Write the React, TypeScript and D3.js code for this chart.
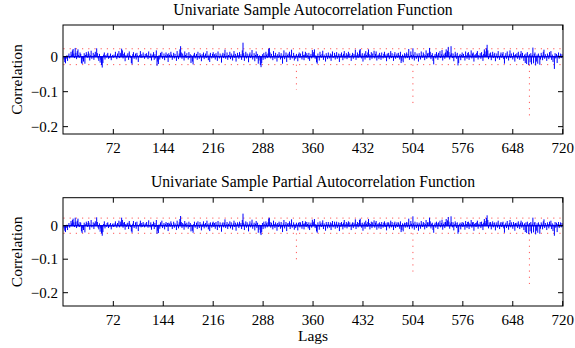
import React from "react";
import * as d3 from "d3";

// Sample ACF, lags 1..720, in thousandths
const acfMilli: number[] = [
  -8, -15, -19, -6, 4, -12, 3, 9, -5, 2, 14, 6, 18, 22, 9, -4, 25, 11, -7, 16, 21, 5, -3, 12,
  8, -18, -21, -6, -14, 10, -20, 5, 13, 7, -3, 15, 9, -11, 4, 17, -6, 2, 11, -9, 6, 14, 3, 24,
  10, -5, -12, 8, -17, -9, -24, -31, -18, 6, 12, -8, 4, -2, 7, 11, -6, 3, -4, 9, -10, 2, 5, -3,
  6, -1, 14, 3, -7, 9, 2, 16, -4, 11, 7, 23, 18, -5, 8, 12, -13, 4, -2, 6, 10, -9, 15, 5,
  -3, -18, -22, 7, 13, -6, 3, 9, -8, 11, 4, -15, 2, 5, 16, -4, 7, -2, 12, 3, -6, 8, -1, 10,
  4, -7, 15, 2, -4, 9, -11, 6, 3, 13, -9, 7, -5, 18, -26, -14, -21, 5, -8, 11, 3, 14, -6, 2,
  9, -10, 4, 12, -3, 7, -15, 10, 5, -2, 14, 6, -9, 3, 11, -5, 8, 2, -12, 16, 4, -7, 9, 21,
  30, 12, -6, 9, 3, -11, 15, 5, -4, 10, 2, -8, 13, -3, 7, -18, 4, -14, -22, 6, 11, -5, 3, 8,
  -9, 14, 2, -6, 10, 5, -13, 7, -2, 12, -7, 4, 9, -4, 16, 3, -10, 6, -15, 11, 2, -5, 8, 13,
  -3, 7, -8, 10, 4, -12, 15, 2, -5, 9, 3, -17, 6, 11, -4, 8, 20, -6, 3, 12, -9, 5, 1, 14,
  -7, 9, 4, -11, 6, 16, -3, 8, -14, 3, 11, 5, -6, 13, 2, 7, -9, 18, 40, 10, -12, 4, 14, -5,
  9, 3, -16, 7, 12, -4, 6, 19, -8, 2, 10, -13, 5, 15, -6, 8, -20, -11, 4, -24, -30, -18, 7, -9,
  11, 3, -7, 14, 6, -4, 9, 22, 25, 12, -5, 8, 2, -10, 16, 4, -6, 11, 3, -14, 7, -3, 13, 5,
  -8, 10, -4, -20, 6, 18, -7, 3, 12, -15, 5, 9, -2, 14, -9, 6, 20, -5, 2, 11, -11, 4, -6, 8,
  3, -13, 7, 12, -4, 9, 2, -8, 15, 5, -10, 6, 14, -3, 10, 4, -7, 11, -12, 3, 8, -5, 19, 6,
  13, 21, -6, 4, -16, -20, 9, 2, -11, 14, 5, -3, 8, 17, -9, 6, 2, -14, 10, 4, -7, 12, 3, -5,
  9, -12, 6, 15, -4, 2, 11, -8, 5, 13, -6, 3, 9, -15, 7, -2, 12, 4, -10, 8, 16, -5, 3, 10,
  -7, 6, 14, -3, 9, 2, -12, 5, 11, -6, 8, 3, 20, -9, 4, 12, -4, 7, 18, 22, 6, -5, 10, -14,
  3, 9, -8, 16, 5, -3, 12, 21, 7, -10, 4, 13, -6, 9, 2, 17, -5, 8, 15, -11, 3, 6, -7, 11,
  4, -9, 12, 2, -5, 8, 14, -3, 6, -13, 9, 3, 11, -7, 5, 16, -4, 10, 2, -12, 7, 13, -6, 4,
  9, -3, 11, 5, -8, 14, -18, -12, 6, -16, 3, 10, -5, 7, 12, -4, 8, 22, -9, 3, 15, 5, -7, 24,
  6, -11, 13, 2, -6, 9, 4, -14, 10, 3, -8, 15, 5, -3, 12, 7, -10, 4, 18, -6, 9, 11, 2, 25,
  14, -7, 5, 10, -12, -22, 3, 8, -5, 13, 6, -9, 11, 2, 16, -4, 7, 19, -11, 4, 9, -6, 12, 21,
  5, 17, 28, 13, -8, 6, 30, 10, -4, 9, -13, 3, 14, 7, -6, 11, -25, -18, 4, 8, -10, 5, 12, -3,
  8, 2, -11, 15, 4, -6, 10, 13, -9, 6, 3, 18, -5, 9, 12, -14, 4, 7, -3, 11, 16, -8, 5, 2,
  10, -6, 13, 4, -12, 8, 21, 15, 6, 24, 34, 18, -7, 9, 3, 12, -10, 5, 14, -4, 7, 11, -13, 3,
  9, -5, 16, 2, -9, 6, 12, -3, 8, 13, -7, -20, 4, 10, -6, 15, 3, -11, 7, 18, -4, 9, 2, -8,
  12, 5, -14, 7, 3, 10, -6, 14, 4, -9, 8, 16, -5, 11, 2, -12, 6, -18, 9, -21, 13, 4, -24, 7,
  -16, 10, -22, 5, 26, -19, 8, 12, -25, -14, 6, -20, 9, 3, -23, -8, 11, 5, -10, 14, 20, -6, 7, 2,
  -12, 9, 4, -7, 13, 3, 16, -9, 6, -15, 2, -35, 10, -5, 8, -18, 4, 12, -6, 3, 9, -4, 7, 2,
];

// Sample PACF, lags 1..720, in thousandths
const pacfMilli: number[] = [
  -8, -15, -19, -7, 3, -13, 2, 8, -6, 1, 14, 7, 17, 21, 10, -4, 24, 12, -7, 15, 21, 6, -4, 11,
  9, -17, -22, -7, -13, 9, -20, 4, 12, 8, -4, 14, 9, -12, 3, 17, -5, 2, 10, -10, 7, 13, 2, 25,
  11, -6, -11, 7, -18, -8, -23, -30, -19, 5, 13, -8, 3, -3, 8, 10, -7, 4, -3, 8, -11, 1, 6, -4,
  7, -2, 13, 4, -6, 8, 3, 15, -5, 12, 6, 24, 17, -6, 9, 11, -12, 5, -3, 7, 9, -10, 14, 6,
  -4, -17, -21, 6, 14, -7, 2, 10, -9, 12, 3, -16, 1, 6, 15, -5, 8, -3, 11, 4, -5, 7, -2, 11,
  3, -6, 16, 1, -5, 10, -12, 5, 4, 12, -10, 8, -4, 17, -24, -15, -22, 4, -9, 10, 2, 15, -7, 3,
  8, -11, 5, 11, -4, 8, -16, 9, 6, -3, 13, 7, -10, 2, 12, -6, 7, 3, -13, 15, 5, -8, 10, 20,
  29, 11, -7, 8, 4, -12, 14, 6, -5, 9, 3, -9, 12, -4, 8, -17, 3, -15, -21, 5, 12, -6, 2, 9,
  -10, 13, 3, -7, 11, 4, -14, 6, -3, 13, -8, 5, 8, -5, 15, 4, -11, 7, -16, 10, 3, -6, 9, 12,
  -4, 8, -9, 11, 3, -13, 14, 3, -6, 10, 2, -18, 7, 10, -5, 9, 19, -7, 4, 11, -10, 6, 2, 13,
  -8, 10, 3, -12, 7, 15, -4, 9, -15, 4, 10, 6, -7, 12, 3, 8, -10, 17, 36, 9, -13, 5, 13, -6,
  10, 4, -17, 6, 13, -5, 7, 18, -9, 3, 9, -14, 6, 14, -7, 9, -21, -12, 3, -23, -28, -19, 8, -10,
  12, 4, -8, 13, 7, -5, 10, 21, 24, 11, -6, 9, 3, -11, 15, 5, -7, 10, 4, -15, 8, -4, 12, 6,
  -9, 11, -5, -19, 7, 17, -8, 4, 11, -16, 6, 8, -3, 13, -10, 7, 19, -6, 3, 10, -12, 5, -7, 9,
  4, -14, 8, 11, -5, 10, 3, -9, 14, 6, -11, 7, 13, -4, 11, 5, -8, 10, -13, 4, 9, -6, 18, 7,
  12, 20, -7, 5, -17, -21, 10, 3, -12, 13, 6, -4, 9, 16, -10, 7, 3, -15, 11, 5, -8, 11, 4, -6,
  10, -13, 7, 14, -5, 3, 12, -9, 6, 12, -7, 4, 10, -16, 8, -3, 11, 5, -11, 9, 17, -6, 4, 11,
  -8, 7, 13, -4, 10, 3, -13, 6, 10, -7, 9, 4, 19, -10, 5, 11, -5, 8, 17, 21, 7, -6, 9, -15,
  4, 10, -9, 15, 6, -4, 11, 20, 8, -11, 5, 12, -7, 10, 3, 16, -6, 9, 14, -12, 4, 7, -8, 10,
  5, -10, 11, 3, -6, 9, 13, -4, 7, -14, 10, 4, 10, -8, 6, 15, -5, 11, 3, -13, 8, 12, -7, 5,
  10, -4, 10, 6, -9, 13, -19, -13, 7, -17, 4, 9, -6, 8, 11, -5, 9, 21, -10, 4, 14, 6, -8, 28,
  7, -12, 12, 3, -7, 10, 5, -15, 9, 4, -9, 14, 6, -4, 11, 8, -11, 5, 17, -7, 10, 10, 3, 24,
  13, -8, 6, 9, -13, -21, 4, 9, -6, 12, 7, -10, 10, 3, 15, -5, 8, 18, -12, 5, 10, -7, 11, 20,
  6, 16, 26, 12, -9, 7, 28, 11, -5, 10, -14, 4, 13, 8, -7, 10, -24, -19, 5, 9, -11, 6, 11, -4,
  9, 3, -12, 14, 5, -7, 11, 12, -10, 7, 4, 17, -6, 10, 11, -15, 5, 8, -4, 10, 15, -9, 6, 3,
  11, -7, 12, 5, -13, 9, 20, 14, 7, 23, 31, 17, -8, 10, 4, 11, -11, 6, 13, -5, 8, 10, -14, 4,
  10, -6, 15, 3, -10, 7, 11, -4, 9, 12, -8, -21, 5, 9, -7, 14, 4, -12, 8, 17, -5, 10, 3, -9,
  11, 6, -15, 8, 4, 9, -7, 13, 5, -10, 9, 15, -6, 10, 3, -13, 7, -19, 10, -22, 12, 5, -25, 8,
  -17, 11, -23, 6, 24, -20, 9, 11, -26, -15, 7, -21, 10, 4, -24, -9, 10, 6, -11, 13, 19, -7, 8, 3,
  -13, 10, 5, -8, 12, 4, 15, -10, 7, -16, 3, -30, 11, -6, 9, -19, 5, 11, -7, 4, 10, -5, 8, 3,
];

const confBound = 0.0227;
const markerLags = [336, 504, 672];
const acfMarkerDepths = [-0.095, -0.133, -0.171];
const pacfMarkerDepths = [-0.101, -0.137, -0.174];

const xTicks = [72, 144, 216, 288, 360, 432, 504, 576, 648, 720];
const yTicks = [0, -0.1, -0.2];

const W = 575;
const H = 348;
const FONT = "'Liberation Serif', 'Times New Roman', serif";

interface PanelProps {
  title: string;
  values: number[];
  markerDepths: number[];
  top: number;
  bottom: number;
  yDomain: [number, number];
  titleY: number;
}

function fmt(v: number): string {
  if (v === 0) return "0";
  return (v < 0 ? "\u2212" : "") + Math.abs(v).toString();
}

function Panel({ title, values, markerDepths, top, bottom, yDomain, titleY }: PanelProps) {
  const x = d3.scaleLinear().domain([0, 720]).range([63.4, 562.7]);
  const y = d3.scaleLinear().domain(yDomain).range([bottom, top]);
  const left = 63;
  const right = 563;
  const tick = 5;
  const red = "#ff3030";

  return (
    <g>
      <text x={313} y={titleY} textAnchor="middle" fontFamily={FONT} fontSize={15.7}>
        {title}
      </text>
      <defs>
        <clipPath id={`clip-${top}`}>
          <rect x={left} y={top} width={right - left} height={bottom - top} />
        </clipPath>
      </defs>
      <g clipPath={`url(#clip-${top})`}>
        {/* confidence bounds */}
        {[confBound, -confBound].map((b, i) => (
          <line key={i} x1={x(0)} x2={x(720)} y1={y(b)} y2={y(b)}
            stroke={red} strokeWidth={1} strokeDasharray="1.2,5" opacity={0.8} />
        ))}
        {markerLags.map((lag, i) => (
          <line key={`m${i}`} x1={x(lag)} x2={x(lag)} y1={y(-confBound)} y2={y(markerDepths[i])}
            stroke={red} strokeWidth={1} strokeDasharray="1.2,5" opacity={0.8} />
        ))}
        {/* stems */}
        {values.map((v, i) => (
          <line key={`s${i}`} x1={x(i + 1)} x2={x(i + 1)} y1={y(0)} y2={y(v)}
            stroke="#0000ff" strokeWidth={1} />
        ))}
        <line x1={x(0)} x2={x(720)} y1={y(0)} y2={y(0)} stroke="#0000ee" strokeWidth={1.6} />
      </g>
      {/* frame */}
      <rect x={left} y={top} width={right - left} height={bottom - top}
        fill="none" stroke="#000" strokeWidth={1} />
      {xTicks.map((t) => (
        <g key={`xt${t}`}>
          <line x1={x(t)} x2={x(t)} y1={bottom} y2={bottom - tick} stroke="#000" />
          <line x1={x(t)} x2={x(t)} y1={top} y2={top + tick} stroke="#000" />
          <text x={x(t)} y={bottom + 19} textAnchor="middle" fontFamily={FONT} fontSize={15}>
            {t}
          </text>
        </g>
      ))}
      {yTicks.map((t) => (
        <g key={`yt${t}`}>
          <line x1={left} x2={left + tick} y1={y(t)} y2={y(t)} stroke="#000" />
          <line x1={right} x2={right - tick} y1={y(t)} y2={y(t)} stroke="#000" />
          <text x={left - 5} y={y(t)} dy="0.33em" textAnchor="end" fontFamily={FONT} fontSize={15}>
            {fmt(t)}
          </text>
        </g>
      ))}
      <text transform={`translate(22,${(top + bottom) / 2}) rotate(-90)`} textAnchor="middle"
        fontFamily={FONT} fontSize={15.5}>
        Correlation
      </text>
    </g>
  );
}

export default function App() {
  const acf = acfMilli.map((v) => v / 1000);
  const pacf = pacfMilli.map((v) => v / 1000);
  return (
    <svg width={W} height={H} style={{ position: "absolute", left: 0, top: 0, background: "#fff" }}>
      <rect width={W} height={H} fill="#fff" />
      <Panel title="Univariate Sample Autocorrelation Function" values={acf}
        markerDepths={acfMarkerDepths} top={25} bottom={134} yDomain={[-0.221, 0.0906]} titleY={15} />
      <Panel title="Univariate Sample Partial Autocorrelation Function" values={pacf}
        markerDepths={pacfMarkerDepths} top={197.7} bottom={306} yDomain={[-0.2397, 0.0836]} titleY={186.7} />
      <text x={313} y={341} textAnchor="middle" fontFamily={FONT} fontSize={15.5}>
        Lags
      </text>
    </svg>
  );
}
